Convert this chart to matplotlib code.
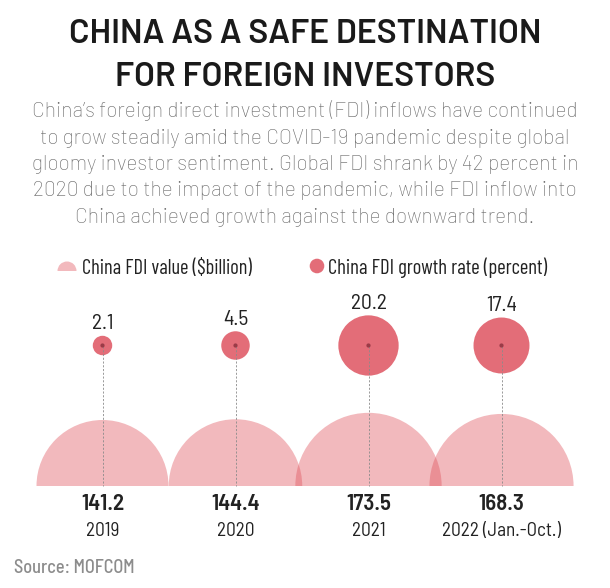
import matplotlib
matplotlib.use("Agg")
import matplotlib.pyplot as plt
from matplotlib.patches import Wedge, Circle
import numpy as np

# ---- data ----
years = ["2019", "2020", "2021", "2022 (Jan.-Oct.)"]
fdi_value = [141.2, 144.4, 173.5, 168.3]          # $billion
growth_rate = [2.1, 4.5, 20.2, 17.4]               # percent

title_lines = ["CHINA AS A SAFE DESTINATION", "FOR FOREIGN INVESTORS"]
subtitle_lines = [
    "China\u2019s foreign direct investment (FDI) inflows have continued",
    "to grow steadily amid the COVID-19 pandemic despite global",
    "gloomy investor sentiment. Global FDI shrank by 42 percent in",
    "2020 due to the impact of the pandemic, while FDI inflow into",
    "China achieved growth against the downward trend.",
]
legend_labels = ["China FDI value ($billion)", "China FDI growth rate (percent)"]
source = "Source: MOFCOM"

# ---- style ----
FONT = ["Barlow Semi Condensed", "DejaVu Sans"]
FONT_WIDE = ["Barlow", "Barlow Semi Condensed", "DejaVu Sans"]
FONT_COND = ["Barlow Condensed", "Barlow Semi Condensed", "DejaVu Sans"]
W, H = 610, 588
half_color = "#e0505a"
half_alpha = 0.40
circ_color = "#e36d78"
dot_color = "#9b3b47"
text_dark = "#222222"

fig = plt.figure(figsize=(W / 100, H / 100), dpi=100)
ax = fig.add_axes([0, 0, 1, 1])
ax.set_xlim(0, W)
ax.set_ylim(H, 0)
ax.axis("off")

def txt(x, y, s, size, weight="normal", color=text_dark, ha="center", va="baseline",
        family=FONT):
    ax.text(x, y, s, fontsize=size, fontweight=weight, color=color, ha=ha, va=va,
            family=family)

# title
for i, line in enumerate(title_lines):
    txt(305, 43 + 43 * i, line, 24.3, weight="semibold", color="#1a1a1a", family=FONT_WIDE)
# subtitle
for i, line in enumerate(subtitle_lines):
    txt(305, 117 + 26.5 * i, line, 15.1, weight="light", color="#6b6b6b", family=FONT_WIDE)

# legend
ax.add_patch(Wedge((67, 271), 9.5, 180, 360, facecolor=half_color, alpha=half_alpha,
                   edgecolor="none"))
txt(82, 274, legend_labels[0], 14.7, ha="left", family=FONT_COND)
ax.add_patch(Circle((317, 266), 7.3, facecolor=circ_color, edgecolor="none"))
txt(328, 274, legend_labels[1], 14.9, ha="left", family=FONT_COND)

# chart
baseline = 486
circ_y = 345.5
k_val = 66.0 / np.sqrt(141.2)
k_gr = 6.71
for i, (yr, v, g) in enumerate(zip(years, fdi_value, growth_rate)):
    x = 102.5 + 133 * i
    r = k_val * np.sqrt(v)
    ax.add_patch(Wedge((x, baseline), r, 180, 360, facecolor=half_color,
                       alpha=half_alpha, edgecolor="none", zorder=1))
    rc = k_gr * np.sqrt(g)
    ax.add_patch(Circle((x, circ_y), rc, facecolor=circ_color, edgecolor="none", zorder=2))
    ax.plot([x, x], [circ_y, baseline], color="#8a8a8a", lw=0.6,
            dashes=(2.5, 2), zorder=3)
    ax.add_patch(Circle((x, circ_y), 2.1, facecolor=dot_color, edgecolor="none", zorder=4))
    txt(x, circ_y - rc - 6.5, f"{g}", 15.5, color=text_dark)
    txt(x, 510, f"{v}", 16.5, weight="semibold", color=text_dark)
    txt(x, 536, yr, 13.8, color=text_dark)

txt(14, 573, source, 13.2, weight="medium", color="#8c8c8c", ha="left")

fig.savefig("out.png", dpi=100)
